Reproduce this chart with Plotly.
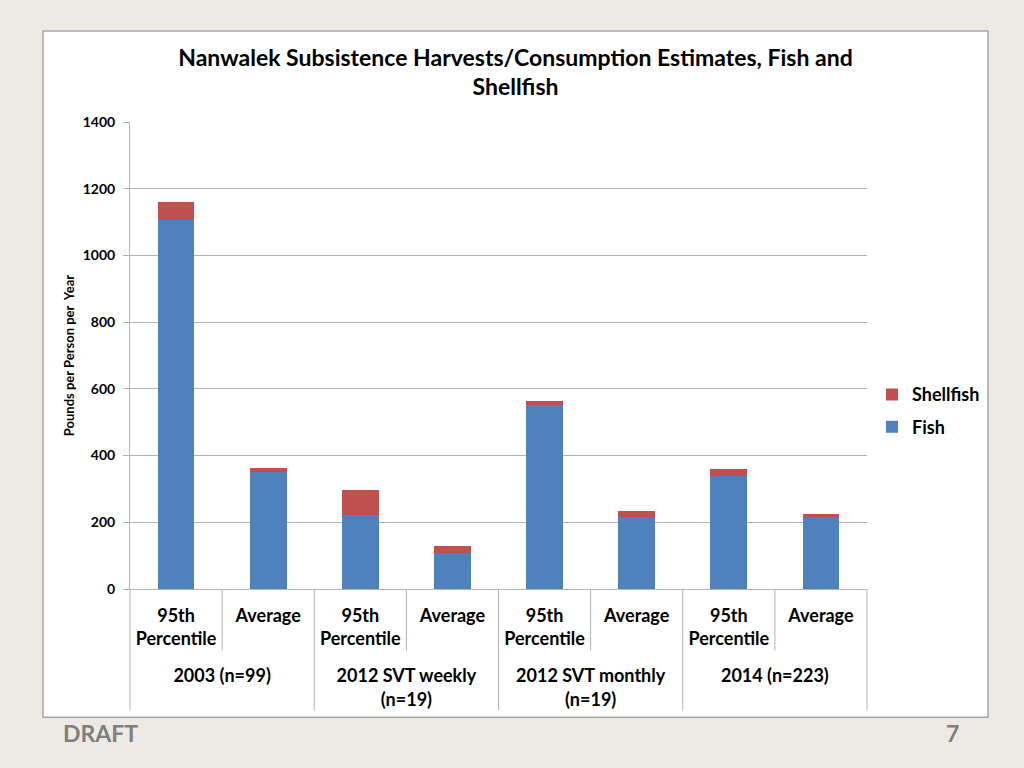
import plotly.graph_objects as go

groups = ["2003 (n=99)", "2003 (n=99)",
          "2012 SVT weekly<br>(n=19)", "2012 SVT weekly<br>(n=19)",
          "2012 SVT monthly<br>(n=19)", "2012 SVT monthly<br>(n=19)",
          "2014 (n=223)", "2014 (n=223)"]
measures = ["95th<br>Percentile<br>&nbsp;", "Average"] * 4
fish = [1105, 350, 222, 108, 552, 215, 340, 216]
shellfish = [55, 14, 75, 22, 12, 20, 21, 10]
y_ticks = [0, 200, 400, 600, 800, 1000, 1200, 1400]

FONT = "Lato"
BLUE = "#4F81BD"
RED = "#C0504D"
GRID = "#B3B3B3"
BG = "#ECEAE3"

fig = go.Figure()
fig.add_trace(go.Bar(x=[groups, measures], y=fish, name="Fish", legendgroup="f",
                     legendrank=2, marker=dict(color=BLUE, line=dict(width=0))))
fig.add_trace(go.Bar(x=[groups, measures], y=shellfish, name="Shellfish", legendgroup="s",
                     legendrank=1, marker=dict(color=RED, line=dict(width=0))))

L, R, T, B = 130, 867, 122, 589.5
W, H = R - L, B - T

def px(xp):
    return (xp - L) / W

def py(yp):
    return (B - yp) / H

shapes = [
    dict(type="rect", xref="paper", yref="paper", layer="below",
         x0=px(43), x1=px(988), y0=py(718), y1=py(31),
         fillcolor="white", line=dict(color="#A6A6A6", width=1.5)),
]
for k in [1, 3, 5, 7]:
    shapes.append(dict(type="line", xref="paper", yref="paper",
                       x0=k / 8, x1=k / 8, y0=0, y1=py(651),
                       line=dict(color=GRID, width=1)))
for k in [0, 2, 4, 6, 8]:
    shapes.append(dict(type="line", xref="paper", yref="paper",
                       x0=k / 8, x1=k / 8, y0=0, y1=py(711),
                       line=dict(color=GRID, width=1)))

fig.update_layout(
    width=1024, height=768,
    margin=dict(l=L, r=1024 - R, t=T, b=768 - B),
    paper_bgcolor=BG, plot_bgcolor="white",
    barmode="stack", bargap=0.6,
    font=dict(family=FONT, color="#000000"),
    title=dict(text="Nanwalek Subsistence Harvests/Consumption Estimates, Fish and<br>Shellfish",
               x=515.5 / 1024, xanchor="center", xref="container",
               y=1 - 65.5 / 768, yanchor="middle", yref="container",
               font=dict(family=FONT, size=23, weight="bold", color="#000000")),
    legend=dict(x=px(872), y=py(411), xanchor="left", yanchor="middle",
                xref="paper", yref="paper", traceorder="grouped",
                font=dict(family=FONT, size=18, weight="bold", color="#000000"),
                bgcolor="rgba(0,0,0,0)", itemwidth=30, tracegroupgap=6),
    shapes=shapes,
    showlegend=True,
    hovermode=False,
    annotations=[
        dict(text="DRAFT", xref="paper", yref="paper", x=px(61), y=py(734),
             xanchor="left", yanchor="middle", showarrow=False,
             font=dict(family=FONT, size=23, weight="bold", color="#7F7F7F")),
        dict(text="7", xref="paper", yref="paper", x=px(961), y=py(734),
             xanchor="right", yanchor="middle", showarrow=False,
             font=dict(family=FONT, size=23, weight="bold", color="#7F7F7F")),
    ],
)

fig.update_yaxes(range=[0, 1400], tickvals=y_ticks,
                 showgrid=True, gridcolor=GRID, gridwidth=1,
                 showline=True, linecolor=GRID, linewidth=1,
                 ticks="outside", ticklen=6, tickcolor=GRID,
                 ticklabelstandoff=5,
                 zeroline=False,
                 tickfont=dict(family=FONT, size=14, weight="bold"),
                 title=dict(text="Pounds per Person per  Year", standoff=5,
                            font=dict(family=FONT, size=13, weight="bold")))
fig.update_xaxes(type="multicategory", showline=True, linecolor=GRID, linewidth=1,
                 ticks="", showdividers=False, ticklabelstandoff=10,
                 tickfont=dict(family=FONT, size=18, weight="bold"))

fig.write_html("out.html", config={"displayModeBar": False},
               post_script="document.body.style.margin='0';document.body.style.background='%s';" % BG)
